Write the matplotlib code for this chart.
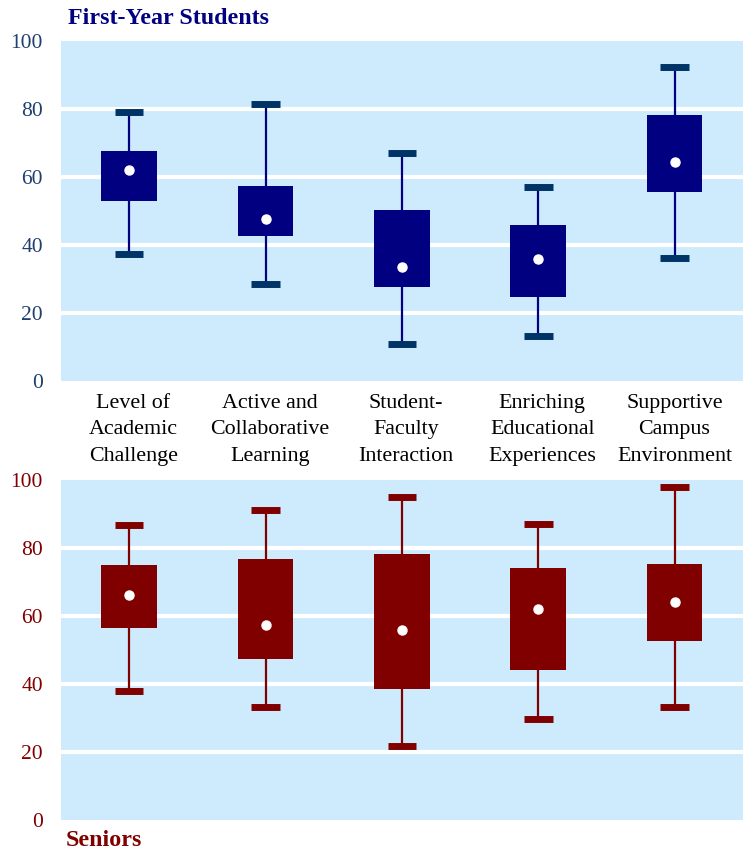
import matplotlib

matplotlib.use("Agg")
import matplotlib.pyplot as plt

plt.rcParams["font.family"] = ["Liberation Serif", "DejaVu Serif"]

categories = [
    "Level of\nAcademic\nChallenge",
    "Active and\nCollaborative\nLearning",
    "Student-\nFaculty\nInteraction",
    "Enriching\nEducational\nExperiences",
    "Supportive\nCampus\nEnvironment",
]
y_ticks = [0, 20, 40, 60, 80, 100]

# First-year students: whisker low, Q1, mean, Q3, whisker high
fy_low = [37.4, 28.5, 10.8, 13.1, 36.1]
fy_q1 = [52.9, 42.7, 27.6, 24.8, 55.7]
fy_mean = [62.0, 47.8, 33.4, 35.9, 64.3]
fy_q3 = [67.7, 57.4, 50.3, 45.8, 78.3]
fy_high = [79.0, 81.6, 67.1, 57.0, 92.4]

# Seniors
sr_low = [38.0, 33.1, 21.9, 29.8, 33.1]
sr_q1 = [56.6, 47.4, 38.6, 44.2, 52.6]
sr_mean = [66.1, 57.4, 55.8, 62.2, 64.2]
sr_q3 = [75.1, 76.7, 78.1, 74.2, 75.4]
sr_high = [86.9, 91.1, 95.1, 87.0, 97.9]

BG = "#cdebfc"


def draw_panel(ax, low, q1, mean, q3, high, box_color, cap_color, tick_color):
    x = list(range(len(low)))
    ax.set_facecolor(BG)
    for y in y_ticks[1:-1]:
        ax.axhline(y, color="white", linewidth=3, zorder=1)
    ax.vlines(x, low, high, color=box_color, linewidth=1.6, zorder=2)
    ax.hlines(low, [i - 0.105 for i in x], [i + 0.105 for i in x],
              color=cap_color, linewidth=5, zorder=3)
    ax.hlines(high, [i - 0.105 for i in x], [i + 0.105 for i in x],
              color=cap_color, linewidth=5, zorder=3)
    heights = [b - a for a, b in zip(q1, q3)]
    ax.bar(x, heights, bottom=q1, width=0.41, color=box_color, zorder=4)
    ax.plot(x, mean, "o", color="white", markersize=6.5, zorder=5)

    ax.set_xlim(-0.5, len(low) - 0.5)
    ax.set_ylim(0, 100)
    ax.set_yticks(y_ticks)
    ax.tick_params(axis="y", length=0, pad=13, labelsize=15.5, labelcolor=tick_color)
    for side in ax.spines.values():
        side.set_visible(False)


fig = plt.figure(figsize=(7.56, 8.52), dpi=100)
ax_top = fig.add_axes([0.0807, 0.5528, 0.9017, 0.399])
ax_bot = fig.add_axes([0.0807, 0.0376, 0.9017, 0.399])

draw_panel(ax_top, fy_low, fy_q1, fy_mean, fy_q3, fy_high,
           "#000080", "#003366", "#1f3f6f")
draw_panel(ax_bot, sr_low, sr_q1, sr_mean, sr_q3, sr_high,
           "#800000", "#800000", "#800000")

# labels sit a touch right of the boxes, except the last one
ax_top.set_xticks([i + 0.03 for i in range(len(categories) - 1)] + [len(categories) - 1])
ax_top.set_xticklabels(categories, fontsize=15.8, linespacing=1.55)
ax_top.tick_params(axis="x", length=0, pad=9)
ax_bot.set_xticks([])

fig.text(0.09, 0.978, "First-Year Students", color="#000080",
         fontsize=17.3, fontweight="bold", va="center", ha="left")
fig.text(0.087, 0.0075, "Seniors", color="#800000",
         fontsize=17.3, fontweight="bold", va="baseline", ha="left")

fig.savefig("out.png", dpi=100)
